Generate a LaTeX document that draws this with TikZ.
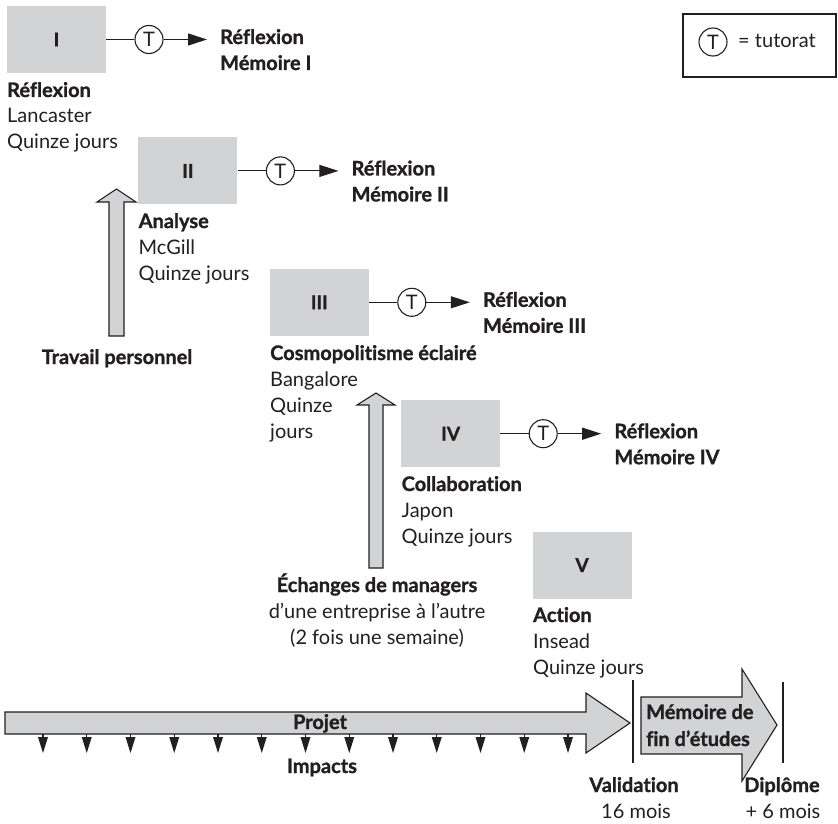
\documentclass[tikz,border=0pt]{standalone}
\usepackage{fontspec}
\setmainfont{Lato}[Ligatures={NoCommon}, BoldFeatures={FakeBold=1.2}]
\usetikzlibrary{arrows.meta}
\definecolor{boxgray}{RGB}{209,211,212}
\definecolor{ink}{RGB}{35,31,32}
\begin{document}
\begin{tikzpicture}[x=1pt,y=-1pt,
  txt/.style={font=\fontsize{20}{24}\selectfont, text=ink, inner sep=0pt},
  bld/.style={font=\fontsize{20}{24}\selectfont\bfseries, text=ink, inner sep=0pt},
  stagebox/.style={fill=boxgray, draw=none, minimum width=99pt, minimum height=67pt, inner sep=0pt, font=\fontsize{19}{22}\selectfont\bfseries, text=ink},
  tut/.style={circle, draw=ink, line width=1.1pt, minimum size=28pt, inner sep=0pt, font=\fontsize{20}{22}\selectfont, text=ink},
  link/.style={draw=ink, line width=1.1pt},
  tipped/.style={-{Triangle[length=19pt,width=12pt]}},
  bigarrow/.style={fill=boxgray, draw=ink, line width=1.1pt, line join=miter},
]
\useasboundingbox (0,0) rectangle (838,824);

% stages
\foreach \k/\r in {0/I,1/II,2/III,3/IV,4/V}{
  \pgfmathsetmacro{\d}{131.4*\k}
  \node[stagebox] (box\k) at (56.5+\d,39.5+\d) {\r};
}
\foreach \k/\r in {0/I,1/II,2/III,3/IV}{
  \pgfmathsetmacro{\d}{131.4*\k}
  \node[tut] (t\k) at (149+\d,39.5+\d) {T};
  \coordinate (e\k) at (207+\d,39.5+\d);
  \draw[link] (box\k.east) -- (t\k);
  \draw[link,tipped] (t\k) -- (e\k);
  \node[bld, anchor=base west] (ra\k) at (220+\d,44+\d) {Réflexion};
  \node[bld, anchor=base west] (rb\k) at (220+\d,70+\d) {Mémoire \r};
}

% labels under boxes
\node[bld, anchor=base west] (l1a) at (7,97) {Réflexion};
\node[txt, anchor=base west] (l1b) at (7,123) {Lancaster};
\node[txt, anchor=base west] (l1c) at (7,149) {Quinze jours};

\node[bld, anchor=base west] (l2a) at (138.5,228) {Analyse};
\node[txt, anchor=base west] (l2b) at (138.5,254) {McGill};
\node[txt, anchor=base west] (l2c) at (138.5,280) {Quinze jours};

\node[bld, anchor=base west] (l3a) at (270,360) {Cosmopolitisme éclairé};
\node[txt, anchor=base west] (l3b) at (270,386) {Bangalore};
\node[txt, anchor=base west] (l3c) at (270,412) {Quinze};
\node[txt, anchor=base west] (l3d) at (270,438) {jours};

\node[bld, anchor=base west] (l4a) at (401.5,491) {Collaboration};
\node[txt, anchor=base west] (l4b) at (401.5,517) {Japon};
\node[txt, anchor=base west] (l4c) at (401.5,543) {Quinze jours};

\node[bld, anchor=base west] (l5a) at (533,622) {Action};
\node[txt, anchor=base west] (l5b) at (533,648) {Insead};
\node[txt, anchor=base west] (l5c) at (533,674) {Quinze jours};

% vertical arrows
\draw[bigarrow] (109,336) -- (109,202) -- (97,202) -- (116.5,189) -- (136,202) -- (124,202) -- (124,336) -- cycle;
\node[bld, anchor=base] (trav) at (117,364) {Travail personnel};

\draw[bigarrow] (369,568) -- (369,405) -- (357,405) -- (376,393) -- (395,405) -- (383,405) -- (383,568) -- cycle;
\node[bld, anchor=base] (ech1) at (377,592) {Échanges de managers};
\node[txt, anchor=base] (ech2) at (377,618) {d’une entreprise à l’autre};
\node[txt, anchor=base] (ech3) at (377,644) {(2 fois une semaine)};

% legend
\node[draw=ink, line width=1.1pt, minimum width=153pt, minimum height=63pt, inner sep=0pt] (legend) at (759.5,45.5) {};
\node[tut] (lt) at (713,42) {T};
\node[txt, anchor=base west] (leq) at (738,48) {= tutorat};

% Projet arrow
\draw[bigarrow] (5,712) -- (586,712) -- (586,693) -- (630,723) -- (586,753) -- (586,734) -- (5,734) -- cycle;
\foreach \i in {0,...,12}{
  \pgfmathsetmacro{\xx}{43+43.75*\i}
  \draw[draw=ink, line width=1.1pt] (\xx,734) -- (\xx,738);
  \fill[ink] (\xx-5,737) -- (\xx+5,737) -- (\xx,753) -- cycle;
}
\node[bld, anchor=base] (proj) at (320,729) {Projet};
\node[bld, anchor=base] (imp) at (322,773) {Impacts};

% milestones
\draw[draw=ink, line width=1.1pt] (633,680) -- (633,763);
\draw[draw=ink, line width=1.1pt] (783,682) -- (783,763);

\draw[bigarrow] (641,697) -- (742,697) -- (742,669) -- (777,725) -- (742,781) -- (742,754) -- (641,754) -- cycle;
\node[bld, anchor=base west] (mem1) at (646,719) {Mémoire de};
\node[bld, anchor=base west] (mem2) at (646,746) {fin d’études};

\node[bld, anchor=base] (val) at (634,792) {Validation};
\node[txt, anchor=base] (val2) at (636,818) {16 mois};
\node[bld, anchor=base] (dip) at (782,792) {Diplôme};
\node[txt, anchor=base] (dip2) at (783,818) {+ 6 mois};
\end{tikzpicture}
\end{document}
